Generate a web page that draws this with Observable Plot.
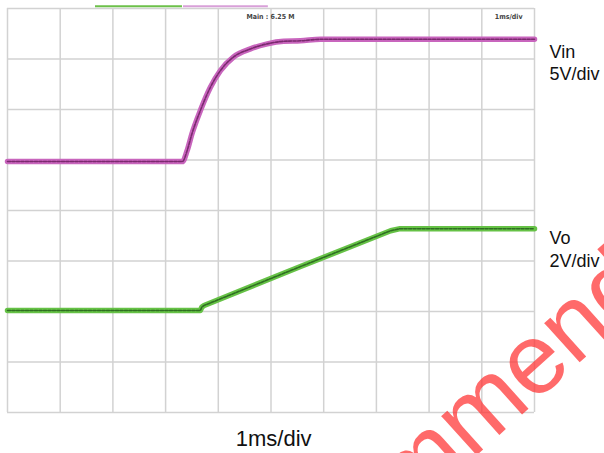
<!DOCTYPE html>
<html>
<head>
<meta charset="utf-8">
<script src="https://cdn.jsdelivr.net/npm/d3@7"></script>
<script src="https://cdn.jsdelivr.net/npm/@observablehq/plot@0.6"></script>
<style>
html, body { margin: 0; padding: 0; background: #fff; overflow: hidden; }
#chart { position: relative; width: 604px; height: 453px; }
</style>
</head>
<body>
<div id="chart"></div>
<script>
// Time in divisions (1 ms/div), voltage in screen divisions
const xTicks = [0, 1, 2, 3, 4, 5, 6, 7, 8, 9, 10];
const yTicks = [0, 1, 2, 3, 4, 5, 6, 7, 8];

const vinTime = [0, 3.32, 3.41, 3.50, 3.66, 3.85, 4.04, 4.29, 4.61, 4.93, 5.24, 5.56, 5.94, 10];
const vinDiv  = [4.97, 4.97, 5.19, 5.52, 5.98, 6.44, 6.77, 7.04, 7.20, 7.30, 7.35, 7.36, 7.39, 7.39];

const voTime = [0, 3.66, 3.69, 3.73, 5.56, 7.27, 7.45, 7.60, 10];
const voDiv  = [2.02, 2.02, 2.09, 2.12, 2.89, 3.60, 3.64, 3.64, 3.64];

const markerStart = [1.67, 3.34];
const markerEnd   = [3.32, 4.95];
const markerColor = ["#6cc04a", "#d8a0d8"];

const vin = vinTime.map((t, i) => ({t, v: vinDiv[i]}));
const vo = voTime.map((t, i) => ({t, v: voDiv[i]}));
const markers = markerStart.map((s, i) => ({s, e: markerEnd[i], c: markerColor[i]}));

const font = "Liberation Sans, Arial, sans-serif";

const plot = Plot.plot({
  width: 604,
  height: 453,
  marginLeft: 7,
  marginRight: 70,
  marginTop: 8,
  marginBottom: 41,
  style: {fontFamily: font, background: "#fff", overflow: "visible"},
  x: {domain: [0, 10], axis: null},
  y: {domain: [0, 8], axis: null},
  marks: [
    Plot.ruleX(xTicks, {stroke: "#d2d2d2", strokeWidth: 1.5}),
    Plot.ruleY(yTicks, {stroke: "#d2d2d2", strokeWidth: 1.5}),
    Plot.ruleY(markers, {y: 8.045, x1: "s", x2: "e", stroke: "c", strokeWidth: 2}),
    Plot.line(vin, {x: "t", y: "v", stroke: "#c865bd", strokeWidth: 5.5, curve: "monotone-x"}),
    Plot.line(vin, {x: "t", y: "v", stroke: "#7a2a6e", strokeWidth: 1.6, strokeDasharray: "3,1.5", curve: "monotone-x"}),
    Plot.line(vo, {x: "t", y: "v", stroke: "#66c246", strokeWidth: 5.5}),
    Plot.line(vo, {x: "t", y: "v", stroke: "#2f6e22", strokeWidth: 1.6, strokeDasharray: "3,1.5"}),
    Plot.text(["Main : 6.25 M"], {x: 4.99, y: 8, dy: 8, fontSize: 7, fontWeight: "bold", fill: "#444", fontFamily: "DejaVu Sans Condensed, DejaVu Sans, sans-serif"}),
    Plot.text(["1ms/div"], {x: 9.51, y: 8, dy: 8, fontSize: 7, fontWeight: "bold", fill: "#444", fontFamily: "DejaVu Sans Condensed, DejaVu Sans, sans-serif"}),
    Plot.text(["Vin\n5V/div"], {x: 10, y: 7.0, dx: 15, dy: 3, textAnchor: "start", lineAnchor: "middle", fontSize: 18, lineHeight: 1.25, fill: "#111"}),
    Plot.text(["Vo\n2V/div"], {x: 10, y: 3.45, dx: 15, dy: 10, textAnchor: "start", lineAnchor: "middle", fontSize: 18, lineHeight: 1.25, fill: "#111"}),
    Plot.text(["1ms/div"], {x: 5.05, y: 0, dy: 26, fontSize: 22, fill: "#111"})
  ]
});

document.getElementById("chart").appendChild(plot);

// Watermark overlay
d3.select(plot).append("text")
  .attr("transform", "translate(236,672) rotate(-42)")
  .attr("text-anchor", "start")
  .attr("font-family", font)
  .attr("font-size", 100)
  .attr("fill", "#ff3030")
  .attr("fill-opacity", 0.72)
  .text("Recommended for New Designs");
</script>
</body>
</html>
